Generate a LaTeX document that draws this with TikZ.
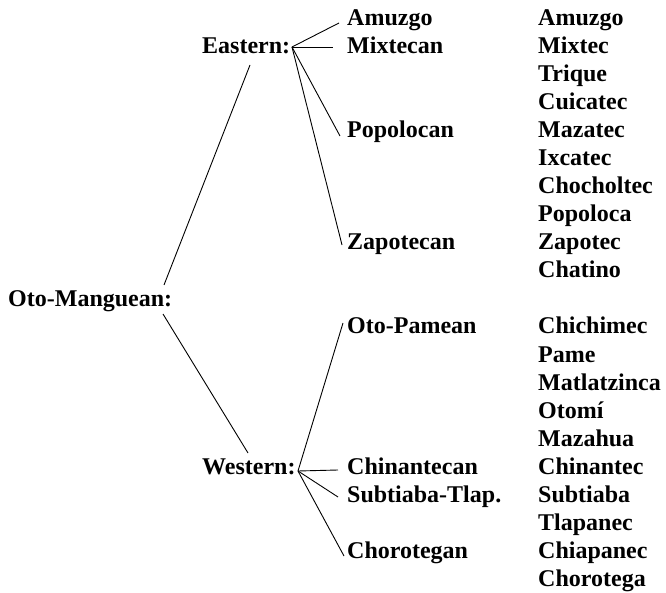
\documentclass[tikz,border=0pt]{standalone}
\usepackage{fontspec}
\setmainfont{Liberation Serif}
\usetikzlibrary{calc}
\begin{document}
\begin{tikzpicture}[x=1pt,y=-1pt,
  lbl/.style={anchor=base west,inner sep=0pt,font=\fontsize{24}{28}\selectfont\bfseries},
  conn/.style={draw=black,line width=0.9pt}]
\useasboundingbox (0,0) rectangle (666,593);
% level 0 and 1
\node[lbl] (oto) at (8,306) {Oto-Manguean:};
\node[lbl] (eastern) at (202,54) {Eastern:};
\node[lbl] (western) at (202,474) {Western:};
% level 2
\node[lbl] (amuzgo) at (347,26) {Amuzgo};
\node[lbl] (mixtecan) at (347,54) {Mixtecan};
\node[lbl] (popolocan) at (347,138) {Popolocan};
\node[lbl] (zapotecan) at (347,250) {Zapotecan};
\node[lbl] (otopamean) at (347,334) {Oto-Pamean};
\node[lbl] (chinantecan) at (347,474) {Chinantecan};
\node[lbl] (subtiaba) at (347,502) {Subtiaba-Tlap.};
\node[lbl] (chorotegan) at (347,558) {Chorotegan};
% level 3
\node[lbl] (l0) at (538,26) {Amuzgo};
\node[lbl] (l1) at (538,54) {Mixtec};
\node[lbl] (l2) at (538,82) {Trique};
\node[lbl] (l3) at (538,110) {Cuicatec};
\node[lbl] (l4) at (538,138) {Mazatec};
\node[lbl] (l5) at (538,166) {Ixcatec};
\node[lbl] (l6) at (538,194) {Chocholtec};
\node[lbl] (l7) at (538,222) {Popoloca};
\node[lbl] (l8) at (538,250) {Zapotec};
\node[lbl] (l9) at (538,278) {Chatino};
\node[lbl] (l11) at (538,334) {Chichimec};
\node[lbl] (l12) at (538,362) {Pame};
\node[lbl] (l13) at (538,390) {Matlatzinca};
\node[lbl] (l14) at (538,418) {Otomí};
\node[lbl] (l15) at (538,446) {Mazahua};
\node[lbl] (l16) at (538,474) {Chinantec};
\node[lbl] (l17) at (538,502) {Subtiaba};
\node[lbl] (l18) at (538,530) {Tlapanec};
\node[lbl] (l19) at (538,558) {Chiapanec};
\node[lbl] (l20) at (538,586) {Chorotega};
% branch points
\coordinate (ebr) at ($(eastern.base west)+(90,-7)$);
\coordinate (wbr) at ($(western.base west)+(96,-3)$);
% connectors
\draw[conn] ($(oto.base west)+(156,-21)$) -- ($(eastern.base west)+(48,11)$);
\draw[conn] ($(oto.base west)+(155,8)$) -- ($(western.base west)+(46,-21)$);
\draw[conn] (ebr) -- ($(amuzgo.base west)+(-8,-3)$);
\draw[conn] (ebr) -- ($(mixtecan.base west)+(-14,-7)$);
\draw[conn] (ebr) -- ($(popolocan.base west)+(-7,-2)$);
\draw[conn] (ebr) -- ($(zapotecan.base west)+(-5,-5)$);
\draw[conn] (wbr) -- ($(otopamean.base west)+(-4,-11)$);
\draw[conn] (wbr) -- ($(chinantecan.base west)+(-9,-4)$);
\draw[conn] (wbr) -- ($(subtiaba.base west)+(-9,-5)$);
\draw[conn] (wbr) -- ($(chorotegan.base west)+(-3,-2)$);
\end{tikzpicture}
\end{document}
